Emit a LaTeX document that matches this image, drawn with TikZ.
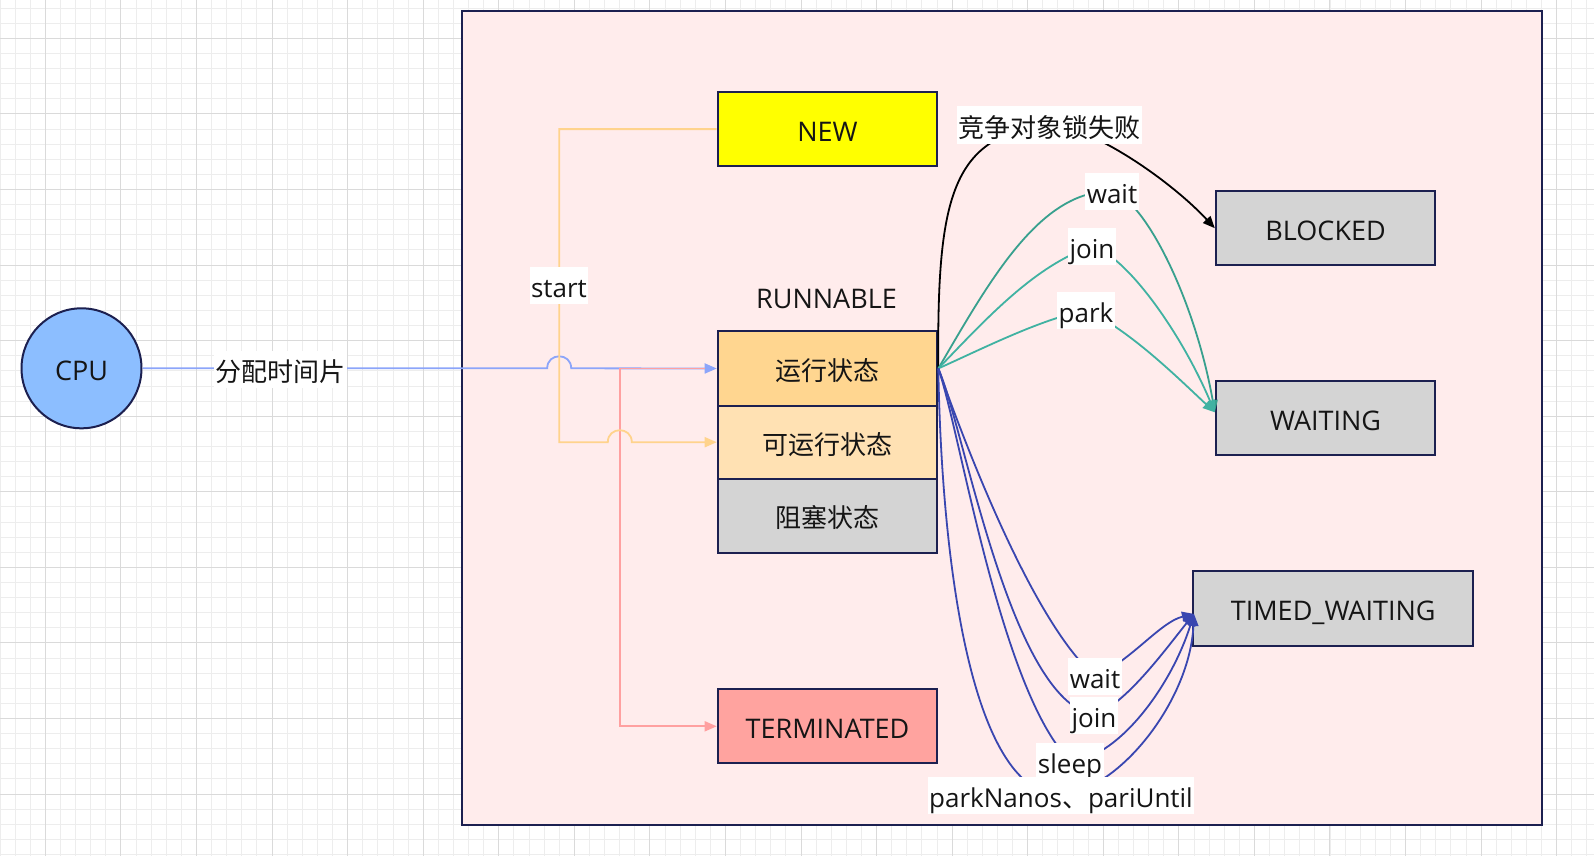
\documentclass[tikz,border=0pt]{standalone}
\usepackage{fontspec}
\setmainfont{Open Sans}
\newfontfamily\cjkfont{Noto Sans CJK SC}
\usetikzlibrary{arrows.meta,calc}
\definecolor{gridminor}{HTML}{EDEDED}
\definecolor{gridmajor}{HTML}{DADADA}
\definecolor{navy}{HTML}{1C2050}
\definecolor{pinkbg}{HTML}{FFECEC}
\definecolor{cpublue}{HTML}{8CBEFF}
\definecolor{cpuline}{HTML}{8CA5FA}
\definecolor{redline}{HTML}{FFA0A0}
\definecolor{yelline}{HTML}{FFD38C}
\definecolor{tealc}{HTML}{40B2A2}
\definecolor{tealdark}{HTML}{38A08E}
\definecolor{bluec}{HTML}{3946B0}
\definecolor{newfill}{HTML}{FFFF00}
\definecolor{runfill}{HTML}{FFD690}
\definecolor{readyfill}{HTML}{FFE1B3}
\definecolor{grayfill}{HTML}{D4D4D4}
\definecolor{termfill}{HTML}{FFA39F}
\definecolor{txt}{HTML}{151515}
\newcommand\myNodeFont{\fontsize{27}{32}\selectfont}
\newcommand\myZh{\cjkfont\fontsize{26}{31}\selectfont}
\newcommand\myEl{\fontsize{26}{31}\selectfont}
\tikzset{
  minorg/.style={draw=gridminor, line width=0.8pt},
  majorg/.style={draw=gridmajor, line width=0.9pt},
  txtline/.style={text height=29pt, text depth=5pt},
  stbox/.style={draw=navy, line width=2pt, minimum width=219.6pt, minimum height=73.2pt, inner sep=0pt, text=txt, font=\myNodeFont, txtline},
  elabel/.style={fill=white, inner sep=1.5pt, text=txt, font=\myEl, txtline},
  conn/.style={line width=1.8pt},
  tipa/.style={-{Triangle[length=12pt,width=10pt]}},
}
\begin{document}
\begin{tikzpicture}[x=1pt,y=-1pt]
\useasboundingbox (0,0) rectangle (1594,856);
\fill[white] (0,0) rectangle (1594,856);
% grid
\foreach \i in {-3,...,102} {\draw[minorg] ({45.3+\i*15.113},0) -- ({45.3+\i*15.113},856);}
\foreach \i in {-3,...,55} {\draw[minorg] (0,{38.3+\i*15.113}) -- (1594,{38.3+\i*15.113});}
\foreach \i in {-1,...,21} {\draw[majorg] ({45.3+\i*75.565},0) -- ({45.3+\i*75.565},856);}
\foreach \i in {-1,...,11} {\draw[majorg] (0,{38.3+\i*75.565}) -- (1594,{38.3+\i*75.565});}
% frame
\draw[draw=navy, line width=2pt, fill=pinkbg] (461.5,11.5) rectangle (1541.5,825.2);

% nodes
\node[circle, draw=navy, line width=2pt, fill=cpublue, minimum size=120pt, inner sep=0pt, text=txt, font=\myNodeFont, txtline] (cpu) at (81.5,368.3) {CPU};
\node[stbox, fill=newfill] (new) at (827.5,129.1) {NEW};
\node[text=txt, font=\myNodeFont, txtline, inner sep=0pt] (rl) at (826.5,296.3) {RUNNABLE};
\node[stbox, fill=runfill, minimum height=74.2pt] (run) at (827.5,368.5) {\myZh 运行状态};
\node[stbox, fill=readyfill] (ready) at (827.5,442.2) {\myZh 可运行状态};
\node[stbox, fill=grayfill, minimum height=74.2pt] (blk) at (827.5,515.9) {\myZh 阻塞状态};
\node[stbox, fill=termfill, minimum height=74.3pt] (term) at (827.5,726.3) {TERMINATED};
\node[stbox, fill=grayfill, minimum height=74.2pt] (blocked) at (1325.6,228.2) {BLOCKED};
\node[stbox, fill=grayfill, minimum height=74.2pt] (waiting) at (1325.6,418.3) {WAITING};
\node[stbox, fill=grayfill, minimum width=279.5pt, minimum height=74.2pt] (timed) at (1333.2,608.4) {TIMED\_WAITING};

% helper coordinates
\coordinate (sx) at (559.2,0);
\coordinate (rx) at (619.8,0);
\coordinate (wtip) at ($(waiting.west)+(0,-6)$);
\coordinate (ttip) at ($(timed.west)+(1.5,5.5)$);

% CPU -> run (blue, jump over start line)
\draw[conn, cpuline, tipa] (cpu.east) -- (547.2,368.3) .. controls (547.2,352.3) and (571.2,352.3) .. (571.2,368.3) -- (run.west);
% run -> terminated (red)
\draw[conn, redline, tipa, shorten <=12pt] (run.west) -- (run.west -| rx) -- (term.west -| rx) -- (term.west);
% new -> ready (yellow, jump over red line)
\draw[conn, yelline, tipa] (new.west) -- (new.west -| sx) -- (ready.west -| sx) -- (607.8,442.2) .. controls (607.8,426.2) and (631.8,426.2) .. (631.8,442.2) -- (ready.west);

% curve waypoints
\coordinate (cl) at (1049,125);
\coordinate (tw1) at (1112,191.3);
\coordinate (tj1) at (1092,246.3);
\coordinate (tp1) at (1086,310);
\coordinate (bw) at (1095,676.3);
\coordinate (bj) at (1094,715);
\coordinate (bs) at (1070,761);
\coordinate (bp) at (1061,795);

% black: lock failed
\draw[conn, black, tipa] (run.east) .. controls (937,200) and (950,135) .. (cl) .. controls (1090,125) and (1170,180) .. (blocked.west);
% teal -> WAITING
\draw[conn, tealdark, tipa] (run.east) .. controls (990,280) and (1040,190) .. (tw1) .. controls (1145,200) and (1195,300) .. (wtip);
\draw[conn, tealc, tipa] (run.east) .. controls (985,320) and (1035,265) .. (tj1) .. controls (1125,255) and (1180,330) .. (wtip);
\draw[conn, tealc, tipa] (run.east) .. controls (990,345) and (1040,320) .. (tp1) .. controls (1130,330) and (1180,380) .. (wtip);
% blue -> TIMED_WAITING
\draw[conn, bluec, tipa] (run.east) .. controls (960,430) and (1030,620) .. (bw) .. controls (1130,662) and (1160,622) .. (ttip);
\draw[conn, bluec, tipa] (run.east) .. controls (965,430) and (1010,700) .. (bj) .. controls (1125,705) and (1165,650) .. (ttip);
\draw[conn, bluec, tipa] (run.east) .. controls (960,430) and (1000,690) .. (bs) .. controls (1115,760) and (1170,690) .. (ttip);
\draw[conn, bluec, tipa] (run.east) .. controls (942,580) and (975,795) .. (bp) .. controls (1120,790) and (1190,700) .. (ttip);

% labels
\node[elabel, font=\myZh] (lcpu) at (280,369.5) {分配时间片};
\node[elabel] (lstart) at (559,285.8) {start};
\node[elabel, font=\myZh] (llock) at (cl) {竞争对象锁失败};
\node[elabel] (lw1) at (tw1) {wait};
\node[elabel] (lj1) at (tj1) {join};
\node[elabel] (lp1) at (tp1) {park};
\node[elabel] (lw2) at (bw) {wait};
\node[elabel] (lj2) at (bj) {join};
\node[elabel] (ls2) at (bs) {sleep};
\node[elabel] (lp2) at (bp) {parkNanos{\cjkfont 、}pariUntil};
\end{tikzpicture}
\end{document}
